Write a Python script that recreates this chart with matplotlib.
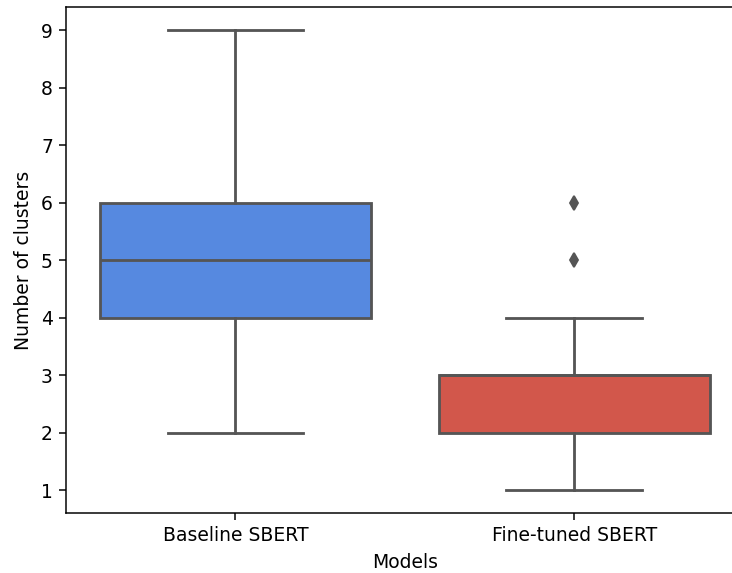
import matplotlib
matplotlib.use("Agg")
import matplotlib.pyplot as plt

models = ["Baseline SBERT", "Fine-tuned SBERT"]
baseline_clusters = [2, 3, 4, 4, 4, 5, 5, 5, 6, 6, 6, 7, 8, 9]
finetuned_clusters = [1, 2, 2, 2, 2, 3, 3, 3, 3, 3, 3, 4, 5, 6]
box_colors = ["#5689E0", "#D2574B"]
line_color = "#555555"

# reference looks like a higher-dpi render cropped on the right
dpi = 135
fig = plt.figure(figsize=(732 / dpi, 573 / dpi), dpi=dpi)
ax = fig.add_axes([0.0902, 0.1047, 0.9255, 0.883])

bp = ax.boxplot(
    [baseline_clusters, finetuned_clusters],
    positions=[0, 1],
    widths=0.8,
    patch_artist=True,
    boxprops=dict(edgecolor=line_color, linewidth=1.5),
    medianprops=dict(color=line_color, linewidth=1.5),
    whiskerprops=dict(color=line_color, linewidth=1.5),
    capprops=dict(color=line_color, linewidth=1.5),
    flierprops=dict(marker="d", markerfacecolor=line_color,
                    markeredgecolor=line_color, markersize=5),
)
for patch, c in zip(bp["boxes"], box_colors):
    patch.set_facecolor(c)
# seaborn-like cap width
for cap in bp["caps"]:
    x0, x1 = cap.get_xdata()
    mid = (x0 + x1) / 2
    cap.set_xdata([mid - 0.2, mid + 0.2])

ax.set_xlim(-0.5, 1.5)
ax.set_ylim(0.6, 9.4)
ax.set_xticks([0, 1])
ax.set_xticklabels(models)
ax.set_yticks(range(1, 10))
ax.set_xlabel("Models")
ax.set_ylabel("Number of clusters")

fig.savefig("out.png", dpi=dpi)
